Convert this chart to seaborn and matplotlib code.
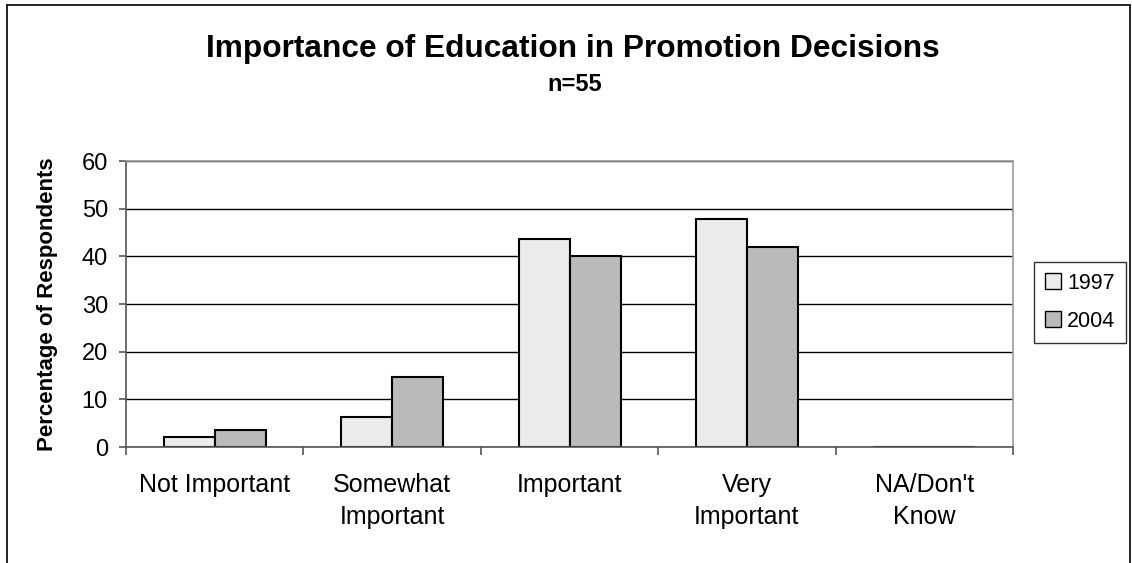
import pandas as pd
import numpy as np

import matplotlib.pyplot as plt
import seaborn as sns
from matplotlib.lines import Line2D

# ============================================================
# DATA
# ============================================================

categories = ["Not Important", "Somewhat\nImportant", "Important",
              "Very\nImportant", "NA/Don't\nKnow"]
years = ["1997", "2004"]
values_1997 = [2.0, 6.2, 43.6, 47.9, 0.0]
values_2004 = [3.6, 14.6, 40.0, 41.9, 0.0]

df = pd.DataFrame({
    "category": categories * 2,
    "year": [years[0]] * len(categories) + [years[1]] * len(categories),
    "value": values_1997 + values_2004,
})

# ============================================================
# PLOT SETTINGS
# ============================================================

sns.set_theme(style="white")
plt.rcParams["font.family"] = ["Liberation Sans", "DejaVu Sans"]
plt.rcParams["text.color"] = "black"
plt.rcParams["axes.labelcolor"] = "black"
plt.rcParams["xtick.color"] = "black"
plt.rcParams["ytick.color"] = "black"

fig = plt.figure(figsize=(11.32, 5.63), dpi=100)
ax = fig.add_axes([0.1113, 0.206, 0.7836, 0.508])

palette = {"1997": "#ebebeb", "2004": "#bababa"}

sns.barplot(
    data=df, x="category", y="value", hue="year",
    order=categories, hue_order=years,
    palette=palette, width=0.575, gap=0,
    edgecolor="black", linewidth=1.5, saturation=1,
    ax=ax, legend=False,
)

# ============================================================
# AXES
# ============================================================

ax.set_ylim(0, 60)
ax.set_xlim(-0.5, len(categories) - 0.5)
ax.set_yticks(np.arange(0, 61, 10))
ax.yaxis.grid(True, color="black", linewidth=1.0)
ax.set_axisbelow(True)

ax.set_xticks(np.arange(len(categories)))
ax.set_xticklabels(categories, fontsize=18, linespacing=1.4)
ax.set_xticks(np.arange(-0.5, len(categories)), minor=True)
ax.tick_params(axis="x", which="major", length=0, pad=19)
ax.tick_params(axis="x", which="minor", length=6, width=1.2, color="#555555",
               direction="out", bottom=True)
ax.tick_params(axis="y", length=5, width=1.2, color="#555555",
               direction="out", left=True, labelsize=17, pad=8)

ax.set_xlabel("")
ax.set_ylabel("Percentage of Respondents", fontsize=16, fontweight="bold",
              labelpad=17)

for side in ["left", "bottom"]:
    ax.spines[side].set_color("#555555")
    ax.spines[side].set_linewidth(1.2)
for side in ["top", "right"]:
    ax.spines[side].set_color("#999999")
    ax.spines[side].set_linewidth(1.2)

# ============================================================
# TITLE
# ============================================================

fig.text(0.506, 0.899, "Importance of Education in Promotion Decisions",
         ha="center", va="baseline", fontsize=22.8, fontweight="bold")
fig.text(0.508, 0.838, "n=55", ha="center", va="baseline",
         fontsize=17, fontweight="bold")

# ============================================================
# LEGEND
# ============================================================

handles = [Line2D([0], [0], marker="s", linestyle="none", markersize=11.5,
                  markerfacecolor=palette[y], markeredgecolor="black",
                  markeredgewidth=1.0) for y in years]
fig.legend(handles, years, loc="upper left",
           bbox_to_anchor=(0.9134, 0.5346), fontsize=15.5,
           frameon=True, fancybox=False, edgecolor="black",
           handlelength=0.8, handletextpad=0.25, labelspacing=0.8,
           borderpad=0.5, borderaxespad=0)

# ============================================================
# CHART BORDER
# ============================================================

fig.add_artist(Line2D([0.006, 0.006], [0.0, 0.991], color="black",
                      linewidth=1.2, transform=fig.transFigure))
fig.add_artist(Line2D([0.006, 0.998], [0.991, 0.991], color="black",
                      linewidth=1.2, transform=fig.transFigure))
fig.add_artist(Line2D([0.998, 0.998], [0.0, 0.991], color="black",
                      linewidth=1.2, transform=fig.transFigure))

fig.savefig("out.png", dpi=100)
